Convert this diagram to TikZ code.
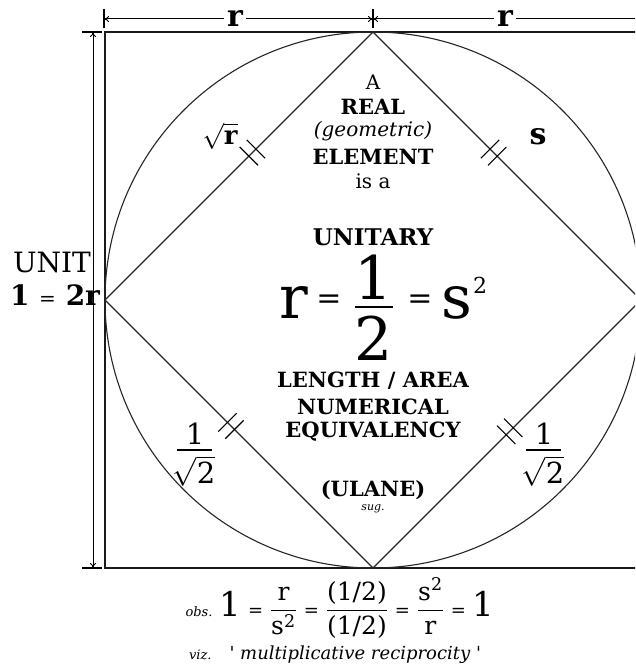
\RequirePackage{fix-cm}
\documentclass[tikz,border=0pt]{standalone}
\usepackage{amsmath}
\usepackage{fontspec}
\setmainfont{DejaVu Serif}
\usetikzlibrary{calc,arrows.meta,positioning}
\tikzset{
  frame/.style={draw=black!90, line width=1.6pt},
  edge/.style={draw=black!85, line width=1.3pt},
  dimline/.style={{To[length=5pt,width=6pt]}-{To[length=5pt,width=6pt]}, line width=1pt},
  dimhalf/.style={{To[length=5pt,width=6pt]}-, line width=1pt},
  tickmark/.style={line width=1.1pt},
  word/.style={inner sep=0pt, font=\fontsize{20}{22}\selectfont},
  bword/.style={inner sep=0pt, font=\fontsize{21}{23}\selectfont\bfseries},
  iword/.style={inner sep=0pt, font=\fontsize{20}{22}\selectfont\itshape},
  dimlabel/.style={fill=white, inner xsep=3pt, inner ysep=0pt, font=\fontsize{30}{30}\selectfont\bfseries},
  side/.style={inner sep=0pt, font=\fontsize{30}{30}\selectfont\bfseries},
  big/.style={inner sep=0pt, font=\fontsize{60}{60}\selectfont},
  bigeq/.style={inner sep=0pt, font=\fontsize{30}{30}\selectfont},
  halfrac/.style={inner sep=0pt, font=\fontsize{29}{29}\selectfont},
  fracbar/.style={line width=1.8pt}
}
\newcommand\smeq{\mathrel{\text{\fontsize{18}{18}\selectfont=}}}

\begin{document}
\begin{tikzpicture}[x=1pt,y=-1pt]
  \useasboundingbox (0,0) rectangle (635,671);
  \fill[white] (0,0) rectangle (635,671);
  \clip (0,0) rectangle (635,671);

  % square, circle and diamond
  \coordinate (O) at (373,300);
  \coordinate (NW) at (105,32);
  \coordinate (SE) at (641,568);
  \coordinate (T) at (373,32);
  \coordinate (L) at (105,300);
  \coordinate (B) at (373,568);
  \coordinate (R) at (641,300);
  \draw[frame] (NW) rectangle (SE);
  \draw[edge, line width=1.1pt] (O) circle (268pt);
  \draw[edge] (T) -- (R) -- (B) -- (L) -- cycle;

  % equal-length ticks
  \foreach \a/\b/\t in {L/T/0.55, T/R/0.45, L/B/0.47, B/R/0.51}{
    \foreach \d in {-5pt,5pt}{
      \path ($(\a)!\t!(\b)$) coordinate (m);
      \path ($(m)!\d!(\b)$) coordinate (q);
      \draw[tickmark] ($(q)!13pt!90:(\b)$) -- ($(q)!13pt!-90:(\b)$);
    }
  }

  % dimension lines
  \coordinate (dl) at (104,19);
  \coordinate (dm) at (373,19);
  \coordinate (dr) at (660,19);
  \draw[tickmark] (104,9) -- (104,28);
  \draw[tickmark] (373,9) -- (373,28);
  \draw[dimline] (dl) -- (dm);
  \draw[dimhalf] (dm) -- (dr);
  \node[dimlabel] (rleft) at (235,19) {r};
  \node[dimlabel] (rright) at (505,19) {r};

  \coordinate (vt) at (93,32);
  \coordinate (vb) at (93,568);
  \draw[tickmark] (82,32) -- (102,32);
  \draw[tickmark] (82,568) -- (102,568);
  \draw[dimline] (vt) -- (vb);

  \node[inner sep=0pt, font=\fontsize{28}{28}\selectfont] (unit) at (52,262) {UNIT};
  \node[inner sep=0pt, font=\fontsize{28}{28}\selectfont\bfseries] (unitval) at (55,295) {1 {\mdseries\fontsize{20}{20}\selectfont=} 2r};

  % side labels
  \node[side, font=\fontsize{26}{26}\selectfont\bfseries] (sqr) at (220,136) {\(\sqrt{\text{\bfseries r}}\)};
  \node[side] (sl) at (538,137) {s};
  \node[halfrac] (fl1) at (195,434) {1};
  \draw[fracbar] (177,450) -- (212,450);
  \node[halfrac] (fl2) at (194,471) {\(\sqrt{\text{2}}\)};
  \node[halfrac] (fr1) at (544,434) {1};
  \draw[fracbar] (526,450) -- (561,450);
  \node[halfrac] (fr2) at (543,471) {\(\sqrt{\text{2}}\)};

  % centre text
  \node[word] (a) at (373,82) {A};
  \node[bword] (real) at (373,107) {REAL};
  \node[iword] (geo) at (373,131) {(geometric)};
  \node[bword] (elem) at (373,157) {ELEMENT};
  \node[word] (isa) at (373,181) {is a};
  \node[bword, font=\fontsize{23}{23}\selectfont\bfseries] (unitary) at (373,237) {UNITARY};

  \node[big] (er) at (294,303) {r};
  \node[bigeq] (eq1) at (329,302) {=};
  \node[big] (one) at (374,277) {1};
  \coordinate (barl) at (355,307);
  \coordinate (barr) at (393,307);
  \draw[line width=2.6pt] (barl) -- (barr);
  \node[big] (two) at (374,338) {2};
  \node[bigeq] (eq2) at (420,302) {=};
  \node[big] (es) at (457,303) {s};
  \node[inner sep=0pt, font=\fontsize{22}{22}\selectfont] (esq) at (480,285) {2};

  \node[bword] (len) at (373,381) {LENGTH / AREA};
  \node[bword] (num) at (373,407) {NUMERICAL};
  \node[bword] (equiv) at (373,432) {EQUIVALENCY};
  \node[bword] (ulane) at (373,490) {(ULANE)};
  \node[inner sep=0pt, font=\fontsize{11}{11}\selectfont\itshape] (sug) at (373,509) {sug.};

  % bottom lines
  \node[inner sep=0pt, font=\fontsize{25}{25}\selectfont] (obs) at (340,608)
    {{\fontsize{13}{13}\selectfont\itshape obs.}\;{\fontsize{34}{34}\selectfont 1}%
     \(\;\smeq\dfrac{\text{r}}{\text{s}^{\text{2}}}\smeq\dfrac{\text{(1/2)}}{\text{(1/2)}}\smeq\dfrac{\text{s}^{\text{2}}}{\text{r}}\smeq\;\)%
     {\fontsize{34}{34}\selectfont 1}};
  \node[inner sep=0pt, font=\fontsize{18}{18}\selectfont\itshape] (viz) at (335,655)
    {{\fontsize{13}{13}\selectfont viz.}\quad\textquotesingle\ multiplicative reciprocity\ \textquotesingle};
\end{tikzpicture}
\end{document}
